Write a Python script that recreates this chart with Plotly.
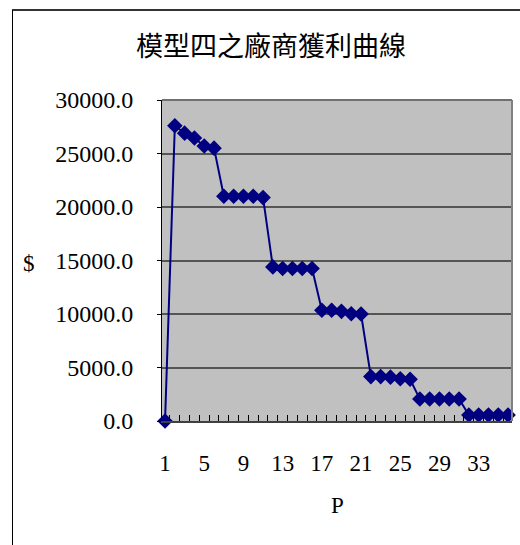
import plotly.graph_objects as go

periods = list(range(1, 37))
profit = [0,
          27600, 26900, 26450, 25700, 25500,
          21000, 21000, 21000, 21000, 20880,
          14400, 14250, 14250, 14250, 14250,
          10350, 10350, 10250, 10030, 10000,
          4150, 4150, 4100, 3950, 3900,
          2050, 2050, 2050, 2050, 2050,
          560, 560, 560, 560, 560]
x_tick_vals = [1, 5, 9, 13, 17, 21, 25, 29, 33]
y_tick_vals = [0, 5000, 10000, 15000, 20000, 25000, 30000]
title_text = "模型四之廠商獲利曲線"
x_title = "P"
y_title = "$"

W, H = 520, 545
L, R, T, B = 162, 8, 100, 124
pw, ph = W - L - R, H - T - B

def px(x):
    return (x - L) / pw

def py(y):
    return (H - B - y) / ph

serif = "Liberation Serif, Times New Roman, serif"

fig = go.Figure()
fig.add_trace(go.Scatter(
    x=periods, y=profit, mode="lines+markers",
    line=dict(color="#000080", width=2),
    marker=dict(symbol="diamond", size=12, color="#000080"),
    cliponaxis=False, showlegend=False))

fig.update_layout(
    width=W, height=H,
    margin=dict(l=L, r=R, t=T, b=B),
    paper_bgcolor="white", plot_bgcolor="#C0C0C0",
    title=dict(text=title_text, x=271 / W, xanchor="center",
               y=1 - 47 / H, yanchor="middle",
               font=dict(family="Noto Sans CJK TC", size=27, color="black")),
    xaxis=dict(range=[0.69, 36.4], tickmode="array", tickvals=x_tick_vals,
               ticks="", showgrid=False, zeroline=False,
               showline=True, linecolor="#404040", linewidth=2,
               tickfont=dict(family=serif, size=23, color="black"),
               ticklabelstandoff=20,
               minor=dict(tickmode="linear", tick0=1.5, dtick=1,
                          ticks="inside", ticklen=6, tickcolor="black",
                          tickwidth=1, showgrid=False)),
    yaxis=dict(range=[0, 30000], tickmode="array", tickvals=y_tick_vals,
               tickformat=".1f", ticks="outside", ticklen=4,
               tickcolor="black", showgrid=True, gridcolor="#555555",
               gridwidth=1.5, zeroline=False,
               showline=True, linecolor="black", linewidth=1,
               tickfont=dict(family=serif, size=24, color="black"),
               ticklabelstandoff=19),
    annotations=[
        dict(text=y_title, x=px(29), y=py(263), xref="paper", yref="paper",
             showarrow=False, xanchor="center", yanchor="middle",
             font=dict(family=serif, size=23, color="black")),
        dict(text=x_title, x=px(337), y=py(505), xref="paper", yref="paper",
             showarrow=False, xanchor="center", yanchor="middle",
             font=dict(family=serif, size=23, color="black")),
    ],
    shapes=[
        dict(type="line", xref="paper", yref="paper",
             x0=0, x1=1, y0=1, y1=1, line=dict(color="#707070", width=2)),
        dict(type="line", xref="paper", yref="paper",
             x0=1, x1=1, y0=0, y1=1, line=dict(color="#808080", width=2)),
        dict(type="line", xref="paper", yref="paper",
             x0=px(12), x1=px(560), y0=py(10), y1=py(10),
             line=dict(color="#333333", width=2)),
        dict(type="line", xref="paper", yref="paper",
             x0=px(12.5), x1=px(12.5), y0=py(10), y1=py(600),
             line=dict(color="#000000", width=1)),
    ],
)

fig.write_html("out.html")
